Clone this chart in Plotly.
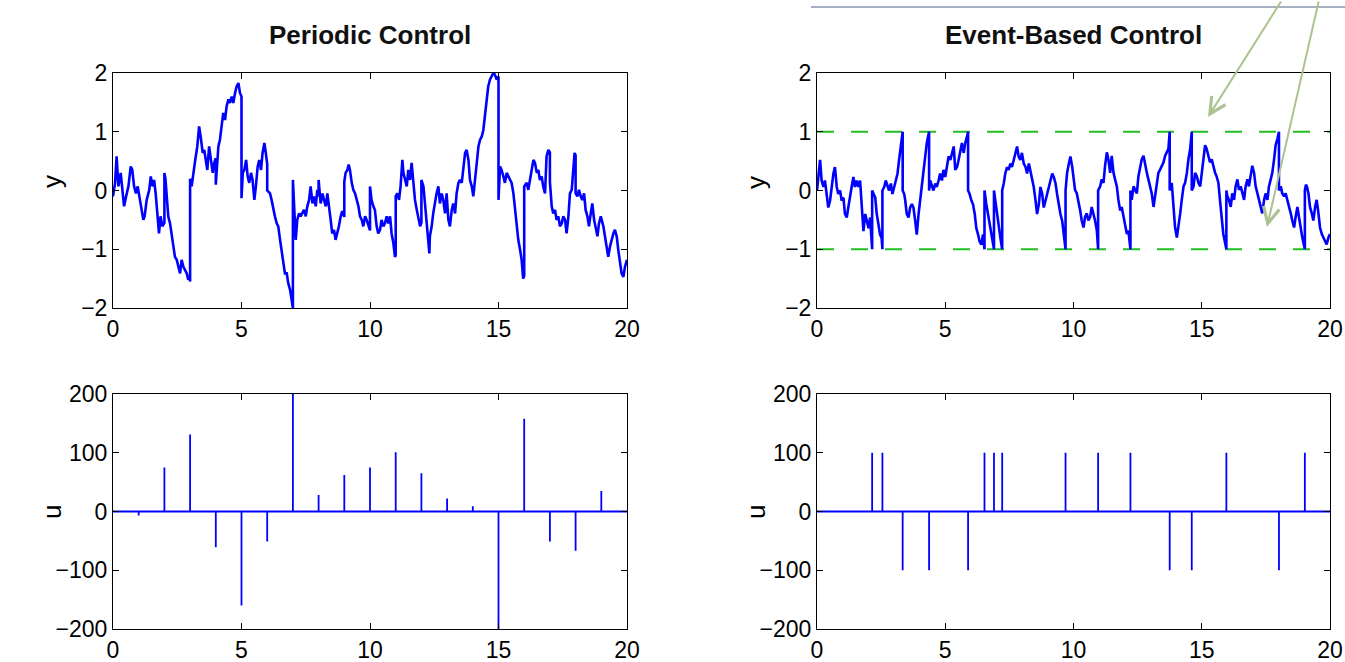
import plotly.graph_objects as go

# ---------------- data ----------------
per_t = [0.00,0.08,0.14,0.21,0.30,0.38,0.43,0.51,0.60,0.69,0.75,0.82,0.89,0.96,1.02,1.12,1.18,1.23,1.31,1.41,
         1.47,1.54,1.60,1.66,1.73,1.79,1.85,1.92,2.00,2.00,2.04,2.09,2.15,2.22,2.28,2.35,2.41,2.48,2.54,2.61,
         2.67,2.74,2.80,2.87,2.93,2.98,3.00,3.00,3.06,3.13,3.20,3.28,3.35,3.41,3.49,3.55,3.62,3.67,3.74,3.80,
         3.88,3.94,4.00,4.00,4.05,4.10,4.16,4.23,4.29,4.36,4.42,4.49,4.55,4.62,4.68,4.75,4.81,4.88,4.94,5.00,
         5.00,5.05,5.11,5.18,5.24,5.30,5.37,5.43,5.50,5.56,5.63,5.69,5.76,5.82,5.89,5.93,6.00,6.00,6.04,6.11,
         6.17,6.24,6.30,6.37,6.43,6.50,6.56,6.63,6.69,6.76,6.82,6.89,6.95,7.00,7.00,7.06,7.11,7.17,7.24,7.30,
         7.37,7.43,7.50,7.56,7.63,7.69,7.76,7.82,7.89,7.95,8.00,8.00,8.08,8.15,8.21,8.28,8.34,8.40,8.47,8.53,
         8.60,8.66,8.73,8.79,8.86,8.92,9.00,9.00,9.05,9.12,9.17,9.22,9.29,9.35,9.42,9.48,9.55,9.61,9.68,9.74,
         9.81,9.87,9.94,10.00,10.00,10.06,10.13,10.19,10.26,10.32,10.39,10.45,10.52,10.58,10.65,10.71,10.78,10.84,10.91,10.97,
         11.00,11.00,11.06,11.13,11.19,11.26,11.30,11.36,11.43,11.49,11.56,11.62,11.69,11.75,11.82,11.88,11.95,12.00,12.00,12.08,
         12.14,12.20,12.27,12.31,12.33,12.40,12.46,12.53,12.59,12.66,12.72,12.79,12.85,12.92,12.98,13.05,13.11,13.18,13.24,13.31,
         13.37,13.44,13.50,13.57,13.63,13.70,13.76,13.83,13.89,13.96,14.02,14.09,14.15,14.22,14.28,14.35,14.41,14.47,14.54,14.60,
         14.67,14.73,14.80,14.86,14.93,15.00,15.00,15.06,15.12,15.19,15.25,15.32,15.38,15.45,15.51,15.58,15.64,15.71,15.77,15.84,
         15.90,15.96,16.00,16.00,16.10,16.16,16.23,16.29,16.36,16.42,16.49,16.55,16.61,16.68,16.74,16.81,16.87,16.94,17.00,17.00,
         17.07,17.13,17.20,17.26,17.33,17.39,17.46,17.52,17.59,17.65,17.72,17.78,17.85,17.91,17.96,18.00,18.00,18.07,18.13,18.20,
         18.26,18.33,18.39,18.46,18.52,18.59,18.65,18.72,18.78,18.85,18.91,18.98,19.08,19.14,19.21,19.27,19.34,19.40,19.47,19.53,
         19.60,19.66,19.73,19.79,19.86,19.92,20.00]
per_y = [-0.10,0.13,0.58,0.07,0.30,-0.05,-0.27,-0.10,0.07,0.41,0.35,0.07,-0.05,0.07,-0.10,-0.33,-0.50,-0.44,-0.16,0.01,
         0.24,0.07,0.18,-0.05,-0.50,-0.73,-0.44,-0.61,-0.55,0.30,0.20,-0.16,-0.44,-0.56,-0.73,-0.95,-1.13,-1.18,-1.30,-1.41,
         -1.18,-1.30,-1.35,-1.41,-1.52,-1.45,-1.55,0.20,0.07,0.35,0.52,0.75,1.09,0.92,0.64,0.69,0.52,0.35,0.75,0.52,
         0.30,0.47,0.55,0.10,0.45,0.75,0.86,1.09,1.32,1.20,1.43,1.55,1.49,1.60,1.49,1.66,1.77,1.83,1.66,1.60,
         -0.13,0.30,0.35,0.52,0.24,0.13,0.30,0.18,-0.16,0.07,0.41,0.52,0.35,0.64,0.81,0.69,0.45,0.00,-0.02,-0.05,
         -0.16,-0.33,-0.44,-0.56,-0.61,-0.84,-1.01,-1.18,-1.41,-1.41,-1.58,-1.69,-1.86,-2.00,0.18,-0.44,-0.84,-0.50,-0.39,-0.44,
         -0.39,-0.33,-0.44,-0.27,-0.16,0.07,-0.22,-0.10,-0.27,0.01,-0.10,0.18,-0.22,-0.05,-0.16,-0.27,-0.05,-0.22,-0.50,-0.73,
         -0.67,-0.84,-0.73,-0.61,-0.44,-0.35,-0.45,0.15,0.30,0.35,0.44,0.35,0.13,0.01,-0.05,-0.16,-0.27,-0.44,-0.50,-0.61,
         -0.44,-0.50,-0.62,-0.68,0.07,-0.16,-0.27,-0.33,-0.61,-0.73,-0.67,-0.50,-0.61,-0.56,-0.44,-0.56,-0.44,-0.73,-0.90,-1.13,
         -1.10,-0.10,-0.05,-0.16,0.07,0.52,0.30,0.18,0.07,0.35,0.18,0.47,0.07,-0.16,-0.33,-0.44,-0.61,-0.55,0.18,0.07,
         -0.27,-0.50,-0.90,-1.07,-0.78,-0.61,-0.39,-0.16,-0.05,0.07,-0.22,-0.05,-0.16,-0.39,-0.05,-0.50,-0.61,-0.33,-0.22,-0.39,
         -0.05,0.13,0.18,0.13,0.35,0.64,0.69,0.52,0.18,0.07,-0.10,0.18,0.41,0.75,0.86,0.92,1.03,1.26,1.55,1.77,
         1.89,1.94,2.00,1.97,1.89,1.94,-0.16,0.41,0.35,0.24,0.13,0.30,0.24,0.18,0.13,-0.05,-0.33,-0.67,-0.84,-1.01,
         -1.18,-1.50,-1.45,0.07,0.13,0.01,0.24,0.35,0.52,0.47,0.30,0.35,0.18,0.24,0.07,-0.05,0.58,0.69,0.65,0.15,
         -0.27,-0.39,-0.33,-0.50,-0.44,-0.61,-0.56,-0.44,-0.50,-0.73,-0.44,-0.05,0.01,0.30,0.64,0.60,-0.05,-0.10,0.01,-0.10,
         -0.16,-0.05,-0.33,-0.44,-0.61,-0.39,-0.22,-0.50,-0.61,-0.78,-0.56,-0.44,-0.61,-0.78,-1.01,-1.13,-0.95,-0.84,-0.73,-0.67,
         -0.78,-1.01,-1.24,-1.41,-1.47,-1.30,-1.18]

evt_t = [0.00,0.05,0.12,0.18,0.25,0.31,0.38,0.44,0.51,0.57,0.64,0.70,0.77,0.83,0.90,0.96,1.03,1.09,1.16,1.22,
         1.29,1.35,1.42,1.48,1.55,1.61,1.68,1.74,1.81,1.88,1.94,2.01,2.07,2.15,2.15,2.20,2.27,2.33,2.40,2.46,
         2.52,2.55,2.55,2.62,2.68,2.75,2.81,2.88,2.94,3.01,3.07,3.14,3.20,3.27,3.34,3.34,3.40,3.44,3.50,3.57,
         3.63,3.70,3.76,3.83,3.89,3.96,4.02,4.09,4.15,4.22,4.28,4.37,4.37,4.41,4.48,4.54,4.61,4.67,4.74,4.80,
         4.87,4.93,5.00,5.07,5.13,5.20,5.26,5.33,5.39,5.46,5.52,5.59,5.65,5.72,5.78,5.85,5.89,5.89,5.95,6.02,
         6.08,6.15,6.21,6.28,6.34,6.41,6.47,6.53,6.53,6.60,6.67,6.73,6.80,6.90,6.90,6.95,7.02,7.08,7.15,7.22,
         7.22,7.28,7.34,7.41,7.47,7.54,7.60,7.67,7.73,7.80,7.86,7.93,7.99,8.06,8.13,8.19,8.26,8.32,8.39,8.45,
         8.52,8.58,8.65,8.71,8.78,8.84,8.91,8.97,9.04,9.10,9.17,9.23,9.30,9.36,9.43,9.49,9.56,9.62,9.69,9.69,
         9.75,9.82,9.88,9.95,10.00,10.06,10.13,10.19,10.26,10.32,10.39,10.45,10.52,10.58,10.65,10.71,10.78,10.84,10.91,10.96,
         10.96,11.04,11.10,11.17,11.23,11.30,11.36,11.43,11.49,11.56,11.62,11.69,11.75,11.82,11.88,11.95,12.01,12.08,12.14,12.22,
         12.22,12.27,12.34,12.40,12.47,12.53,12.60,12.66,12.73,12.79,12.86,12.92,12.99,13.05,13.12,13.18,13.25,13.31,13.38,13.44,
         13.51,13.57,13.64,13.70,13.75,13.75,13.83,13.90,13.96,14.03,14.09,14.16,14.22,14.29,14.35,14.42,14.48,14.55,14.61,14.61,
         14.68,14.74,14.81,14.87,14.94,15.00,15.06,15.13,15.19,15.26,15.32,15.39,15.45,15.52,15.58,15.65,15.71,15.78,15.84,15.96,
         15.96,16.00,16.06,16.13,16.19,16.26,16.32,16.39,16.45,16.52,16.58,16.65,16.71,16.78,16.84,16.91,16.97,17.04,17.10,17.17,
         17.23,17.30,17.36,17.43,17.49,17.56,17.62,17.69,17.75,17.82,17.88,17.95,18.01,18.01,18.08,18.14,18.21,18.27,18.34,18.40,
         18.47,18.53,18.60,18.66,18.73,18.79,18.86,18.92,19.02,19.02,19.06,19.10,19.16,19.22,19.29,19.35,19.42,19.48,19.55,19.61,
         19.68,19.74,19.81,19.87,19.94,20.00]
evt_y = [0.00,0.23,0.52,0.17,0.06,0.17,-0.06,-0.29,-0.17,0.06,0.29,0.40,0.06,-0.06,0.00,-0.17,-0.12,-0.40,-0.46,-0.29,
         -0.06,0.06,0.23,0.06,0.17,0.06,0.17,-0.17,-0.69,-0.40,-0.52,-0.64,-0.46,-1.00,0.00,-0.06,-0.12,-0.40,-0.64,-0.75,
         -0.81,-1.00,0.00,0.06,0.17,0.06,0.00,0.12,-0.06,0.06,0.17,0.29,0.52,0.75,1.00,0.00,-0.06,-0.17,-0.40,-0.46,
         -0.29,-0.23,-0.29,-0.52,-0.75,-0.40,-0.17,0.06,0.40,0.58,0.81,1.00,0.00,0.17,0.06,0.00,0.12,0.06,0.17,0.29,
         0.17,0.35,0.23,0.46,0.58,0.52,0.64,0.75,0.35,0.40,0.52,0.69,0.81,0.64,0.81,0.92,1.00,0.00,-0.06,-0.17,
         -0.23,-0.40,-0.64,-0.75,-0.87,-0.92,-0.75,-1.00,0.00,-0.23,-0.40,-0.52,-0.75,-1.00,0.00,-0.17,-0.40,-0.64,-0.81,-1.00,
         0.00,0.12,0.29,0.40,0.35,0.46,0.40,0.52,0.64,0.75,0.58,0.52,0.64,0.46,0.40,0.29,0.46,0.35,0.17,0.06,
         -0.17,-0.40,-0.23,0.06,-0.06,-0.29,-0.17,-0.06,0.06,0.17,0.29,0.23,0.12,-0.06,-0.29,-0.40,-0.52,-0.75,-1.00,0.00,
         0.30,0.46,0.58,0.40,0.19,0.01,-0.05,-0.16,-0.34,-0.51,-0.63,-0.45,-0.39,-0.51,-0.45,-0.28,-0.39,-0.51,-0.68,-1.00,
         0.00,0.07,0.19,0.13,0.42,0.65,0.53,0.30,0.59,0.30,0.19,0.07,-0.16,-0.34,-0.28,-0.45,-0.63,-0.74,-0.68,-1.00,
         0.00,-0.16,0.07,0.01,-0.05,0.24,0.42,0.53,0.59,0.42,0.30,0.19,0.07,-0.05,-0.28,-0.10,0.07,0.30,0.36,0.42,
         0.48,0.59,0.65,0.71,1.00,0.00,0.13,-0.28,-0.63,-0.80,-0.63,-0.39,-0.16,0.07,0.13,0.30,0.53,0.71,1.00,0.00,
         0.07,0.30,0.24,0.13,0.07,0.30,0.53,0.77,0.71,0.59,0.48,0.53,0.42,0.30,0.24,0.13,-0.16,-0.45,-0.74,-1.00,
         0.00,-0.10,-0.16,-0.28,-0.05,-0.16,0.07,0.19,0.01,0.07,-0.05,-0.16,0.07,0.19,0.07,0.30,0.42,0.30,0.07,-0.05,
         -0.16,-0.28,-0.39,-0.16,-0.05,-0.16,0.07,0.19,0.30,0.53,0.77,0.88,1.00,0.00,0.07,-0.05,-0.10,-0.05,-0.16,-0.28,
         -0.39,-0.51,-0.63,-0.45,-0.28,-0.45,-0.68,-0.80,-1.00,0.00,0.10,0.07,-0.05,-0.28,-0.39,-0.51,-0.28,-0.16,-0.39,-0.63,
         -0.74,-0.80,-0.86,-0.92,-0.80,-0.74]

thresholds = [1, -1]

per_u_t = [1, 2, 3, 4, 5, 6, 7, 8, 9, 10, 11, 12, 13, 14, 15, 16, 17, 18, 19]
per_u_v = [-7, 75, 131, -61, -160, -51, 200, 28, 62, 75, 101, 65, 22, 9, -200, 158, -51, -67, 35]

evt_u_t = [2.15, 2.55, 3.34, 4.37, 5.89, 6.53, 6.90, 7.22, 9.69, 10.96, 12.22, 13.75, 14.61, 15.96, 18.01, 19.02]
evt_u_v = [100, 100, -100, -100, -100, 100, 100, 100, 100, 100, 100, -100, -100, 100, -100, 100]

t_range = [0, 20]
x_ticks = [0, 5, 10, 15, 20]
y_ticks = [-2, -1, 0, 1, 2]
u_ticks = [-200, -100, 0, 100, 200]

titles = ["Periodic Control", "Event-Based Control"]

# ---------------- figure ----------------
W, H = 1345, 662
BLUE = "#0000ff"
GREEN = "#22bf22"
FONT = "Liberation Sans, Arial, Helvetica, sans-serif"


def impulses(ts, vs, t0, t1):
    xs, ys = [t0], [0]
    for t, v in zip(ts, vs):
        xs += [t, t, t]
        ys += [0, v, 0]
    xs.append(t1)
    ys.append(0)
    return xs, ys


fig = go.Figure()
fig.add_trace(go.Scatter(x=per_t, y=per_y, mode="lines", line=dict(color=BLUE, width=2.6),
                         xaxis="x", yaxis="y"))
for th in thresholds:
    fig.add_trace(go.Scatter(x=t_range, y=[th, th], mode="lines",
                             line=dict(color=GREEN, width=1.8, dash="17px,17px"),
                             xaxis="x2", yaxis="y2"))
fig.add_trace(go.Scatter(x=evt_t, y=evt_y, mode="lines", line=dict(color=BLUE, width=2.6),
                         xaxis="x2", yaxis="y2"))
ux, uy = impulses(per_u_t, per_u_v, t_range[0], t_range[1])
fig.add_trace(go.Scatter(x=ux, y=uy, mode="lines", line=dict(color=BLUE, width=1.8),
                         xaxis="x3", yaxis="y3"))
ex, ey = impulses(evt_u_t, evt_u_v, t_range[0], t_range[1])
fig.add_trace(go.Scatter(x=ex, y=ey, mode="lines", line=dict(color=BLUE, width=1.8),
                         xaxis="x4", yaxis="y4"))

left_dom = [113 / W, 627 / W]
right_dom = [817 / W, 1330 / W]
top_dom = [1 - 308 / H, 1 - 73 / H]
bot_dom = [1 - 629 / H, 1 - 394 / H]

axis_common = dict(showline=True, linecolor="black", linewidth=1, mirror="ticks",
                   ticks="inside", ticklen=6, tickcolor="black", tickwidth=1,
                   showgrid=False, zeroline=False, automargin=False,
                   tickfont=dict(family=FONT, size=23, color="black"))

fig.update_layout(
    width=W, height=H, autosize=False, margin=dict(l=0, r=0, t=0, b=0, pad=0),
    paper_bgcolor="white", plot_bgcolor="white", showlegend=False,
    xaxis=dict(domain=left_dom, anchor="y", range=t_range, tickvals=x_ticks, **axis_common),
    yaxis=dict(domain=top_dom, anchor="x", range=[-2, 2], tickvals=y_ticks, **axis_common),
    xaxis2=dict(domain=right_dom, anchor="y2", range=t_range, tickvals=x_ticks, **axis_common),
    yaxis2=dict(domain=top_dom, anchor="x2", range=[-2, 2], tickvals=y_ticks, **axis_common),
    xaxis3=dict(domain=left_dom, anchor="y3", range=t_range, tickvals=x_ticks, **axis_common),
    yaxis3=dict(domain=bot_dom, anchor="x3", range=[-200, 200], tickvals=u_ticks, **axis_common),
    xaxis4=dict(domain=right_dom, anchor="y4", range=t_range, tickvals=x_ticks, **axis_common),
    yaxis4=dict(domain=bot_dom, anchor="x4", range=[-200, 200], tickvals=u_ticks, **axis_common),
)

ann = []
# titles
for txt, cx in zip(titles, [(113 + 627) / 2, (817 + 1330) / 2]):
    ann.append(dict(text="<b>" + txt + "</b>", x=cx / W, y=1 - 35 / H, xref="paper", yref="paper",
                    showarrow=False, xanchor="center", yanchor="middle",
                    font=dict(family=FONT, size=26, color="#111111")))
# axis labels
for lab, lx, ly in [("y", 52, 182), ("y", 756, 182), ("u", 52, 512), ("u", 756, 512)]:
    ann.append(dict(text=lab, x=lx / W, y=1 - ly / H, xref="paper", yref="paper", showarrow=False,
                    textangle=-90, xanchor="center", yanchor="middle",
                    font=dict(family=FONT, size=26, color="black")))
# slide arrows
for hx, hy, tx, ty in [(1208, 117, 1282, 0), (1267, 227, 1319, 0)]:
    ann.append(dict(text="", x=hx / W, y=1 - hy / H, xref="paper", yref="paper",
                    ax=tx - hx, ay=ty - hy, showarrow=True, arrowhead=5, arrowsize=1.6,
                    arrowwidth=2, arrowcolor="#adc291", standoff=0))
fig.update_layout(annotations=ann)

fig.add_shape(type="line", xref="paper", yref="paper", x0=811 / W, x1=1, y0=1 - 7 / H, y1=1 - 7 / H,
              line=dict(color="#8a94b2", width=1.5))

fig.write_html("out.html", include_plotlyjs=True, config={"displayModeBar": False},
               post_script="document.body.style.margin='0';document.body.style.padding='0';"
                           "document.body.style.overflow='hidden';")
